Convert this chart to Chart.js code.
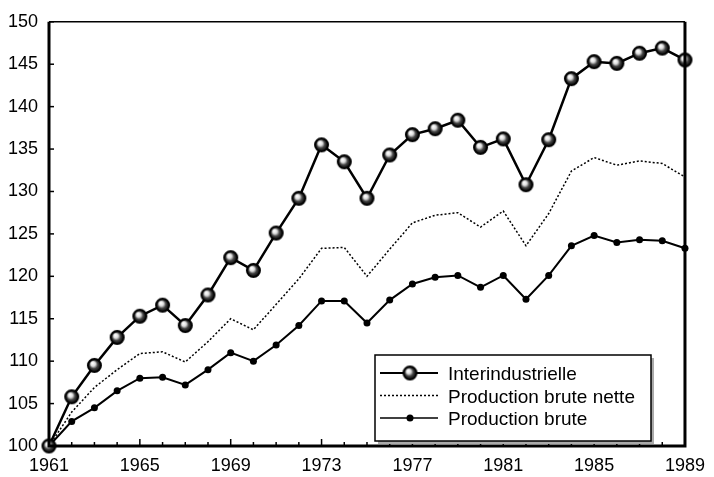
<!DOCTYPE html>
<html>
<head>
<meta charset="utf-8">
<script src="https://cdn.jsdelivr.net/npm/chart.js@4.4.0/dist/chart.umd.min.js"></script>
<style>
  body { margin: 0; background: #fff; }
  canvas { display: block; }
</style>
</head>
<body>
<canvas id="chart" width="714" height="477"></canvas>
<script>
// Data (index, 1961 = 100)
const years = [];
for (let y = 1961; y <= 1989; y++) years.push(y);

const interindustrielle = [100, 105.8, 109.5, 112.8, 115.3, 116.6, 114.2, 117.8, 122.2, 120.7,
    125.1, 129.2, 135.5, 133.5, 129.2, 134.3, 136.7, 137.4, 138.4, 135.2,
    136.2, 130.8, 136.1, 143.3, 145.3, 145.1, 146.3, 146.9, 145.5];
const productionBruteNette = [100, 104.0, 106.9, 109.0, 110.9, 111.1, 109.9, 112.3, 115.0, 113.7,
    116.7, 119.7, 123.3, 123.4, 120.0, 123.2, 126.3, 127.2, 127.5, 125.8,
    127.7, 123.6, 127.4, 132.4, 134.0, 133.1, 133.6, 133.3, 131.7];
const productionBrute = [100, 102.9, 104.5, 106.5, 108.0, 108.1, 107.2, 109.0, 111.0, 110.0,
    111.9, 114.2, 117.1, 117.1, 114.5, 117.2, 119.1, 119.9, 120.1, 118.7,
    120.1, 117.3, 120.1, 123.6, 124.8, 124.0, 124.3, 124.2, 123.3];
const seriesNames = ['Interindustrielle', 'Production brute nette', 'Production brute'];

// shaded ball marker like the scan
function makeBall(r) {
    const c = document.createElement('canvas');
    const s = Math.ceil(r * 2 + 4);
    c.width = s; c.height = s;
    const g = c.getContext('2d');
    const m = s / 2;
    const grad = g.createRadialGradient(m - r * 0.3, m - r * 0.35, 0.5, m, m, r);
    grad.addColorStop(0, '#ffffff');
    grad.addColorStop(0.3, '#dddddd');
    grad.addColorStop(0.6, '#444444');
    grad.addColorStop(1, '#000000');
    g.beginPath();
    g.arc(m, m, r, 0, Math.PI * 2);
    g.fillStyle = grad;
    g.fill();
    g.lineWidth = 2;
    g.strokeStyle = '#000';
    g.stroke();
    return c;
}
const ball = makeBall(6.5);

const FONT = { family: '"Liberation Sans", Arial, sans-serif', size: 18 };

// frame, inward ticks and boxed legend
const decor = {
    id: 'decor',
    afterDraw(chart) {
        const ctx = chart.ctx;
        const a = chart.chartArea;
        const xs = chart.scales.x, ys = chart.scales.y;
        ctx.save();
        ctx.strokeStyle = '#000';

        // ticks pointing inside
        ctx.lineWidth = 1.5;
        xs.ticks.forEach((t, i) => {
            const px = xs.getPixelForTick(i);
            const len = (years[i] - 1961) % 4 === 0 ? 7 : 4;
            ctx.beginPath();
            ctx.moveTo(px, a.bottom);
            ctx.lineTo(px, a.bottom - len);
            ctx.stroke();
        });
        ys.ticks.forEach(t => {
            const py = ys.getPixelForValue(t.value);
            ctx.beginPath();
            ctx.moveTo(a.left, py);
            ctx.lineTo(a.left + 5, py);
            ctx.stroke();
        });

        // frame
        ctx.lineWidth = 1.5;
        ctx.beginPath();
        ctx.moveTo(a.left, a.top);
        ctx.lineTo(a.right, a.top);
        ctx.stroke();
        ctx.lineWidth = 3;
        ctx.beginPath();
        ctx.moveTo(a.left, a.top);
        ctx.lineTo(a.left, a.bottom);
        ctx.lineTo(a.right, a.bottom);
        ctx.lineTo(a.right, a.top);
        ctx.stroke();

        // legend box
        const bx = 375, by = 355, bw = 276, bh = 86;
        ctx.fillStyle = '#aaa';
        ctx.fillRect(bx + 3, by + 3, bw, bh);
        ctx.fillStyle = '#fff';
        ctx.fillRect(bx, by, bw, bh);
        ctx.lineWidth = 1.5;
        ctx.strokeRect(bx, by, bw, bh);

        ctx.font = '19px "Liberation Sans", Arial, sans-serif';
        ctx.textBaseline = 'middle';
        ctx.fillStyle = '#000';
        chart.data.datasets.forEach((ds, i) => {
            const ry = by + 18 + i * 22.5;
            ctx.lineWidth = i === 0 ? 2 : 1.5;
            ctx.setLineDash(ds.borderDash || []);
            ctx.beginPath();
            ctx.moveTo(bx + 5, ry);
            ctx.lineTo(bx + 63, ry);
            ctx.stroke();
            ctx.setLineDash([]);
            if (ds.pointStyle && typeof ds.pointStyle !== 'string') {
                ctx.drawImage(ds.pointStyle, bx + 35 - ds.pointStyle.width / 2, ry - ds.pointStyle.height / 2);
            } else if (ds.pointRadius > 0) {
                ctx.beginPath();
                ctx.arc(bx + 35, ry, ds.pointRadius, 0, Math.PI * 2);
                ctx.fill();
            }
            ctx.fillText(ds.label, 448, ry + 2);
        });
        ctx.restore();
    }
};

new Chart(document.getElementById('chart').getContext('2d'), {
    type: 'line',
    data: {
        labels: years,
        datasets: [
            {
                label: seriesNames[0],
                data: interindustrielle,
                borderColor: '#000',
                borderWidth: 2.5,
                pointStyle: ball,
                pointRadius: 7,
                clip: false
            },
            {
                label: seriesNames[1],
                data: productionBruteNette,
                borderColor: '#000',
                borderWidth: 1.5,
                borderDash: [2, 2],
                pointRadius: 0,
                clip: false
            },
            {
                label: seriesNames[2],
                data: productionBrute,
                borderColor: '#000',
                backgroundColor: '#000',
                borderWidth: 2,
                pointRadius: 3.5,
                pointBorderWidth: 0,
                clip: false
            }
        ]
    },
    options: {
        responsive: false,
        animation: false,
        layout: { padding: { top: 17, right: 22, left: 0, bottom: 0 } },
        plugins: { legend: { display: false }, tooltip: { enabled: false } },
        scales: {
            x: {
                type: 'category',
                offset: false,
                grid: { display: false, drawTicks: false },
                border: { display: false },
                ticks: {
                    autoSkip: false,
                    maxRotation: 0,
                    padding: 9,
                    color: '#000',
                    font: FONT,
                    callback: function(v) {
                        const yr = this.getLabelForValue(v);
                        return (yr - 1961) % 4 === 0 ? String(yr) : '';
                    }
                },
                afterFit: s => { s.height = 31; }
            },
            y: {
                min: 100,
                max: 150,
                grid: { display: false, drawTicks: false },
                border: { display: false },
                ticks: { stepSize: 5, padding: 11, color: '#000', font: FONT },
                afterFit: s => { s.width = 49; }
            }
        }
    },
    plugins: [decor]
});
</script>
</body>
</html>
